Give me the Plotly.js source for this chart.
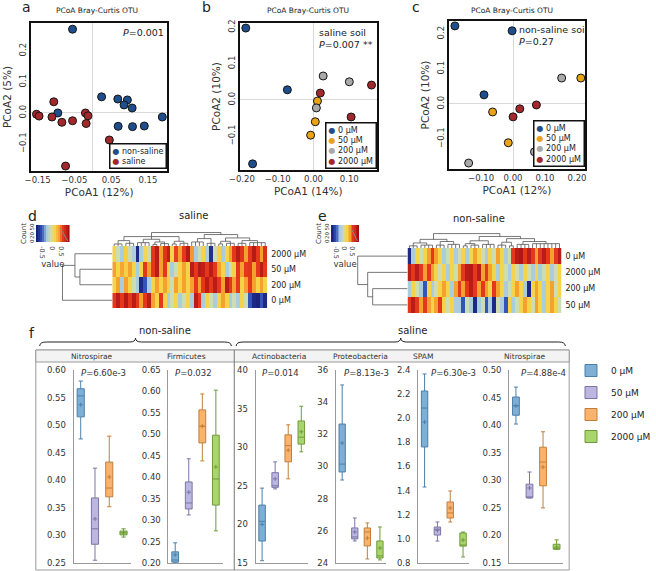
<!DOCTYPE html>
<html>
<head>
<meta charset="utf-8">
<script src="https://cdn.plot.ly/plotly-3.0.1.min.js"></script>
<style>
  html, body { margin: 0; padding: 0; background: #fff; }
  #fig { width: 656px; height: 571px; }
</style>
</head>
<body>
<div id="fig"></div>
<script>
// ---------- data ----------
var concs = ['0 μM', '50 μM', '200 μM', '2000 μM'];

// a: PCoA, saline vs non-saline
var aNonSalineX = [-0.055, -0.095, 0.024, 0.068, 0.094, 0.085, 0.107, 0.189, 0.069, 0.108, 0.140];
var aNonSalineY = [0.270, 0.000, 0.052, 0.045, 0.042, 0.026, 0.016, -0.013, -0.043, -0.044, -0.042];
var aSalineX = [-0.153, -0.146, -0.106, -0.111, -0.084, -0.055, -0.020, -0.013, -0.018, 0.045, -0.074];
var aSalineY = [-0.004, -0.010, 0.036, -0.013, -0.030, -0.025, 0.000, -0.009, -0.034, -0.087, -0.171];

// b: saline soil, one list per concentration
var bX = [[-0.189, -0.073, -0.170], [0.011, 0.005, -0.008], [0.027, 0.100, 0.008], [0.162, 0.019, 0.105]];
var bY = [[0.198, 0.028, -0.176], [-0.003, -0.060, -0.097], [0.066, 0.050, -0.022], [0.041, 0.019, -0.047]];

// c: non-saline soil
var cX = [[-0.182, -0.003, -0.091], [0.212, -0.064, -0.015], [0.152, 0.067, -0.139], [0.021, 0.000, 0.073]];
var cY = [[0.223, 0.209, 0.026], [0.074, -0.023, -0.111], [0.074, -0.137, -0.169], [-0.014, -0.037, -0.003]];

// d: saline heatmap rows (top to bottom)
var dRowNames = ['2000 μM', '50 μM', '200 μM', '0 μM'];
var dRow2000 = [0.1,-0.1,-0.3,0.12,-0.12,-0.28,-0.75,-0.3,0.08,-0.1,0.5,0.7,0.3,0.52,0.68,0.1,0.48,0.3,0.5,0.72,0.32,-0.3,-0.1,0.1,-0.28,-0.72,-0.1,0.12,-0.3,0.1,0.3,0.5,0.7,0.52,0.3,0.5,0.72,0.5,0.3,0.55];
var dRow50 = [0.3,0.1,0.28,0.12,0.3,0.1,-0.3,0.1,0.5,0.3,0.5,0.7,0.3,0.5,0.1,-0.3,-0.1,0.1,0.3,0.1,0.7,0.5,0.72,0.68,0.5,0.7,0.5,0.3,0.1,-0.3,-0.1,0.1,0.5,0.3,0.5,0.52,0.3,0.5,0.7,0.5];
var dRow200 = [0.1,0.3,-0.3,0.3,0.1,-0.1,-0.3,-0.75,-0.55,-0.3,0.1,0.3,0.1,0.3,0.12,-0.1,0.3,0.1,0.3,0.1,0.3,0.5,0.3,0.5,0.7,0.5,0.7,0.5,0.3,0.7,0.5,0.3,0.5,0.1,0.3,0.5,0.3,0.1,0.3,0.1];
var dRow0 = [0.5,0.7,0.5,0.72,0.5,0.7,0.5,0.3,0.5,0.7,0.3,0.1,0.5,0.1,-0.3,-0.1,0.1,-0.3,-0.1,0.1,-0.3,0.7,0.5,-0.3,0.1,-0.1,-0.3,0.1,0.3,0.1,-0.3,-0.1,-0.3,0.1,-0.1,-0.55,-0.75,-0.78,-0.55,-0.75];
var dColTree = [1,
  [0.7, [0.4, [0.15, 0, 1, 2], [0.2, 3, 4, 5]], [0.5, [0.25, 6, 7, 8, 9], [0.3, [0.12, 10, 11], [0.18, 12, 13, 14]]], [0.35, [0.15, 15, 16], [0.2, 17, 18, 19]]],
  [0.85, [0.55, [0.3, 20, 21, 22, 23], [0.2, 24, 25, 26]], [0.6, [0.35, [0.15, 27, 28], [0.2, 29, 30, 31]], [0.4, [0.2, 32, 33, 34], [0.25, 35, 36, 37, 38, 39]]]]
];
var dRowTree = [1, [0.75, 0, [0.65, 1, 2]], 3];

// e: non-saline heatmap rows
var eRowNames = ['0 μM', '2000 μM', '200 μM', '50 μM'];
var eRow0 = [-0.75,-0.3,0.1,-0.1,0.1,0.3,0.5,0.3,0.1,-0.3,-0.1,0.1,-0.3,-0.1,0.1,-0.3,0.1,0.3,0.1,-0.1,-0.3,0.1,-0.1,0.3,0.1,-0.3,-0.1,0.5,0.7,0.75,0.5,0.7,0.5,0.3,0.5,0.7,0.5,0.3,0.5,0.7];
var eRow2000 = [0.7,0.5,0.7,0.5,0.3,0.5,0.3,0.1,-0.1,0.1,-0.3,0.1,-0.1,0.3,0.5,0.7,0.72,0.5,0.7,0.3,0.5,0.3,0.1,-0.3,0.1,-0.1,-0.3,0.1,-0.1,-0.3,0.1,-0.1,-0.3,0.1,-0.3,-0.1,0.1,-0.3,-0.1,0.1];
var eRow200 = [-0.3,0.1,-0.1,-0.3,-0.55,0.1,-0.3,-0.1,0.1,0.3,0.1,-0.3,0.3,0.5,0.3,0.5,0.7,0.5,0.3,0.5,0.3,0.1,0.5,0.3,0.1,-0.3,-0.1,0.1,0.3,0.1,-0.3,-0.75,0.1,0.3,0.1,-0.3,0.1,0.3,-0.1,0.1];
var eRow50 = [0.5,0.7,0.5,0.3,0.5,0.3,0.1,0.3,0.5,0.1,-0.1,0.1,-0.3,-0.3,-0.55,-0.1,-0.3,-0.75,-0.3,-0.1,-0.55,-0.3,-0.75,-0.1,-0.3,-0.55,0.1,-0.3,-0.1,0.1,0.3,0.1,-0.1,0.3,0.1,-0.3,0.1,0.3,0.1,-0.1];
var eColTree = [1,
  [0.6, [0.35, [0.15, 0, 1, 2], [0.2, 3, 4, 5, 6]], [0.45, [0.2, 7, 8, 9], [0.25, 10, 11, 12, 13]]],
  [0.8, [0.5, [0.3, [0.15, 14, 15], [0.2, 16, 17, 18]], [0.25, 19, 20, 21, 22]], [0.65, [0.4, [0.2, 23, 24, 25], [0.15, 26, 27]], [0.45, [0.25, 28, 29, 30, 31], [0.3, 32, 33, 34, 35, 36, 37, 38, 39]]]]
];
var eRowTree = [1, 0, [0.8, 1, [0.7, 2, 3]]];

// colour key of the heatmaps
var keyVals = [-0.8,-0.7,-0.6,-0.5,-0.4,-0.3,-0.2,-0.1,0,0.1,0.2,0.3,0.4,0.5,0.6,0.7,0.8];
var keyHistX = [0.35, 0.45, 0.55, 0.65, 0.75];
var keyHistY = [48, 40, 28, 14, 4];

// f: boxplots, per concentration [min, q1, median, q3, max, mean]
var boxTitles = ['Nitrospirae', 'Firmicutes', 'Actinobacteria', 'Proteobacteria', 'SPAM', 'Nitrospirae'];
var boxPvals = ['6.60e-3', '0.032', '0.014', '8.13e-3', '6.30e-3', '4.88e-4'];
var boxNitroNonSaline = [[0.475,0.515,0.553,0.566,0.580,0.537], [0.255,0.284,0.312,0.368,0.422,0.330], [0.352,0.370,0.386,0.433,0.480,0.406], [0.297,0.301,0.3045,0.308,0.312,0.305]];
var boxFirmicutes = [[0.200,0.202,0.207,0.226,0.247,0.219], [0.312,0.326,0.340,0.389,0.443,0.365], [0.438,0.480,0.519,0.557,0.594,0.519], [0.275,0.335,0.396,0.498,0.603,0.424]];
var boxActino = [[15.3,17.85,20.4,22.5,24.7,20.0], [24.6,24.8,25.0,26.7,28.1,25.9], [25.9,28.1,30.2,31.6,32.9,29.6], [29.4,30.4,31.3,33.4,35.3,32.0]];
var boxProteo = [[29.16,29.66,30.15,32.64,35.07,31.46], [25.37,25.5,25.62,26.18,26.8,25.93], [24.25,25.06,25.93,26.18,26.49,25.55], [24.19,24.31,24.44,25.37,26.24,24.93]];
var boxSpam = [[1.43,1.762,2.085,2.226,2.367,1.969], [0.982,1.032,1.08,1.098,1.14,1.07], [1.14,1.173,1.215,1.306,1.397,1.256], [0.85,0.94,0.949,1.049,1.057,0.99]];
var boxNitroSaline = [[0.402,0.418,0.435,0.451,0.469,0.435], [0.268,0.268,0.269,0.293,0.315,0.286], [0.250,0.290,0.333,0.360,0.388,0.324], [0.175,0.175,0.177,0.184,0.192,0.179]];
var boxRanges = [[0.25, 0.60], [0.20, 0.65], [15, 40], [24, 36], [0.8, 2.4], [0.15, 0.50]];
var boxDticks = [0.05, 0.05, 5, 2, 0.2, 0.05];

// ---------- styling ----------
var W = 656, H = 571;
var dotColors = ['#1f4e8c', '#e8a317', '#a9a9a9', '#a3282b'];
var boxFill = ['#7eb0d5', '#bcb6e0', '#f9b36c', '#a9d66c'];
var boxLine = ['#4d7fa8', '#7b75a6', '#c27f3c', '#6f9a3c'];
var heatScale = [[0, '#1a1f7a'], [0.15, '#2f4fb8'], [0.3, '#a6cbe3'], [0.44, '#cfdcb0'], [0.56, '#f6d54a'], [0.69, '#f5a030'], [0.81, '#e6381c'], [1, '#a50f15']];

function fx(p) { return p / W; }
function fy(p) { return 1 - p / H; }
function domX(a, b) { return [a / W, b / W]; }
function domY(top, bottom) { return [1 - bottom / H, 1 - top / H]; }

var traces = [];
var layout = {
  width: W, height: H,
  margin: {l: 0, r: 0, t: 0, b: 0},
  paper_bgcolor: '#fff',
  plot_bgcolor: 'rgba(0,0,0,0)',
  font: {family: 'DejaVu Sans', color: '#222', size: 9},
  showlegend: true,
  legend: {x: fx(590), y: fy(356), xanchor: 'left', yanchor: 'top', font: {size: 9}, tracegroupgap: 3, bgcolor: 'rgba(0,0,0,0)'},
  annotations: [],
  shapes: []
};

function setAxes(n, xd, yd, xo, yo) {
  var s = n > 1 ? String(n) : '';
  layout['xaxis' + s] = Object.assign({domain: xd, anchor: 'y' + s, fixedrange: true}, xo);
  layout['yaxis' + s] = Object.assign({domain: yd, anchor: 'x' + s, fixedrange: true}, yo);
}
var hidden = {visible: false, showgrid: false, zeroline: false};

function note(text, px, py, opts) {
  layout.annotations.push(Object.assign({text: text, x: fx(px), y: fy(py), xref: 'paper', yref: 'paper',
    showarrow: false, xanchor: 'center', yanchor: 'middle', font: {size: 9}}, opts || {}));
}

// ---------- a, b, c: PCoA scatter ----------
function pcoaAxis(range, tickvals, fmt, angle, title) {
  return {range: range, tickvals: tickvals, tickformat: fmt, tickangle: angle,
    showline: true, mirror: true, linecolor: '#111', linewidth: 2, showgrid: false,
    zeroline: true, zerolinecolor: '#d9d9d9', zerolinewidth: 1, ticks: '',
    tickfont: {size: 8.5, color: '#333'}, title: {text: title, font: {size: 10.5, color: '#333'}, standoff: 4}};
}
function dots(x, y, color, n) {
  var s = n > 1 ? String(n) : '';
  return {type: 'scatter', mode: 'markers', x: x, y: y, xaxis: 'x' + s, yaxis: 'y' + s,
    marker: {size: 8, color: color, line: {color: '#151515', width: 1}}, showlegend: false, cliponaxis: false, hoverinfo: 'skip'};
}

setAxes(1, domX(32, 173), domY(23, 171),
  pcoaAxis([-0.168, 0.203], [-0.15, -0.05, 0.05, 0.15], '.2f', 0, 'PCoA1 (12%)'),
  pcoaAxis([-0.187, 0.29], [-0.1, 0, 0.1, 0.2], '.1f', -90, 'PCoA2 (5%)'));
traces.push(dots(aNonSalineX, aNonSalineY, dotColors[0], 1));
traces.push(dots(aSalineX, aSalineY, dotColors[3], 1));

setAxes(2, domX(248, 389), domY(23, 170),
  pcoaAxis([-0.205, 0.176], [-0.2, -0.1, 0, 0.1], '.2f', 0, 'PCoA1 (14%)'),
  pcoaAxis([-0.193, 0.212], [-0.1, 0, 0.1, 0.2], '.1f', -90, 'PCoA2 (10%)'));
setAxes(3, domX(464, 604), domY(21, 169),
  pcoaAxis([-0.2, 0.224], [-0.1, 0, 0.1, 0.2], '.2f', 0, 'PCoA1 (12%)'),
  pcoaAxis([-0.186, 0.237], [-0.1, 0, 0.1, 0.2], '.1f', -90, 'PCoA2 (10%)'));
for (var i = 0; i < concs.length; i++) {
  traces.push(dots(bX[i], bY[i], dotColors[i], 2));
  traces.push(dots(cX[i], cY[i], dotColors[i], 3));
}

function dotLegend(names, colors) {
  return names.map(function (n, k) {
    return '<span style="color:' + colors[k] + '">●</span> ' + n;
  }).join('<br>');
}
var legBox = {xanchor: 'left', yanchor: 'top', align: 'left', bgcolor: '#fff', bordercolor: '#111', borderwidth: 1.5, borderpad: 2, font: {size: 8, color: '#222'}};
note(dotLegend(['non-saline', 'saline'], [dotColors[0], dotColors[3]]), 113, 143, legBox);
note(dotLegend(concs, dotColors), 336, 122, legBox);
note(dotLegend(concs, dotColors), 551, 120, legBox);

note('<i>P</i>=0.001', 171, 32, {xanchor: 'right', font: {size: 9.5}});
note('saline soil<br><i>P</i>=0.007 **', 327, 25, {xanchor: 'left', yanchor: 'top', align: 'left', font: {size: 9.5}});
note('non-saline soil<br><i>P</i>=0.27', 534, 22, {xanchor: 'left', yanchor: 'top', align: 'left', font: {size: 9.5}});

['a', 'b', 'c'].forEach(function (t, k) {
  note(t, [27, 213, 430][k], 7, {font: {size: 14}});
  note('PCoA Bray-Curtis OTU', [100, 318, 529][k], 10, {font: {size: 7.5}});
});

// ---------- d, e: heatmaps with dendrograms ----------
function dendro(tree, segs) {
  if (typeof tree === 'number') return {pos: tree, h: 0};
  var h = tree[0];
  var kids = tree.slice(1).map(function (k) { return dendro(k, segs); });
  kids.forEach(function (k) { segs.push([k.pos, k.h, k.pos, h]); });
  var p0 = kids[0].pos, p1 = kids[kids.length - 1].pos;
  segs.push([p0, h, p1, h]);
  return {pos: (p0 + p1) / 2, h: h};
}
function dendroTrace(tree, swap, n) {
  var segs = [], x = [], y = [];
  dendro(tree, segs);
  segs.forEach(function (s) {
    if (swap) { x.push(s[1], s[3], null); y.push(s[0], s[2], null); }
    else { x.push(s[0], s[2], null); y.push(s[1], s[3], null); }
  });
  return {type: 'scatter', mode: 'lines', x: x, y: y, xaxis: 'x' + n, yaxis: 'y' + n,
    line: {color: '#555', width: 0.8}, showlegend: false, hoverinfo: 'skip'};
}

function heatBlock(n, rows, names, colTree, rowTree, box, key, title) {
  // box: [left, right, top, bottom, rowDendroLeft, colDendroTop]
  var nc = rows[0].length;
  setAxes(n, domX(box[0], box[1]), domY(box[2], box[3]),
    Object.assign({range: [-0.5, nc - 0.5]}, hidden),
    {range: [rows.length - 0.5, -0.5], side: 'right', tickvals: [0, 1, 2, 3], ticktext: names,
     showgrid: false, zeroline: false, ticks: '', tickfont: {size: 8, color: '#222'}, ticklabelstandoff: 3});
  traces.push({type: 'heatmap', z: rows, xaxis: 'x' + n, yaxis: 'y' + n, colorscale: heatScale,
    zmin: -0.8, zmax: 0.8, showscale: false, hoverinfo: 'skip'});

  setAxes(n + 1, domX(box[0], box[1]), domY(box[5], box[2]),
    Object.assign({range: [-0.5, nc - 0.5]}, hidden), Object.assign({range: [0, 1.04]}, hidden));
  traces.push(dendroTrace(colTree, false, n + 1));

  setAxes(n + 2, domX(box[4], box[0]), domY(box[2], box[3]),
    Object.assign({range: [1.03, 0]}, hidden), Object.assign({range: [rows.length - 0.5, -0.5]}, hidden));
  traces.push(dendroTrace(rowTree, true, n + 2));

  setAxes(n + 3, domX(key[0], key[1]), domY(key[2], key[3]),
    {range: [-0.85, 0.85], tickvals: [-0.5, 0, 0.5], ticktext: ['-0.5', '0', '0.5'], ticks: '', showgrid: false,
     zeroline: false, tickfont: {size: 6.5, color: '#333'}, ticklabelstandoff: 0,
     title: {text: 'value', font: {size: 8.5, color: '#333'}, standoff: 1}},
    {range: [0, 60], tickvals: [0, 20, 50], tickangle: -90, ticks: '', showgrid: false, zeroline: false,
     tickfont: {size: 5.5, color: '#333'}, ticklabelstandoff: 0,
     title: {text: 'Count', font: {size: 7, color: '#333'}, standoff: 1}});
  traces.push({type: 'heatmap', z: [keyVals], x: keyVals, y: [0, 60], xaxis: 'x' + (n + 3), yaxis: 'y' + (n + 3),
    colorscale: heatScale, zmin: -0.8, zmax: 0.8, showscale: false, hoverinfo: 'skip'});
  traces.push({type: 'scatter', mode: 'lines', x: keyHistX, y: keyHistY, xaxis: 'x' + (n + 3), yaxis: 'y' + (n + 3),
    line: {color: '#8a8a8a', width: 1}, showlegend: false, hoverinfo: 'skip'});
  note(title[0], title[1], title[2], {font: {size: 10}});
}

heatBlock(4, [dRow2000, dRow50, dRow200, dRow0], dRowNames, dColTree, dRowTree,
  [116, 276, 246, 308, 63, 232], [37, 72, 225, 242], ['saline', 200, 216]);
heatBlock(8, [eRow0, eRow2000, eRow200, eRow50], eRowNames, eColTree, eRowTree,
  [421, 580, 248, 313, 368, 233], [342, 371, 225, 242], ['non-saline', 495, 218]);
note('d', 34, 216, {font: {size: 14}});
note('e', 333, 216, {font: {size: 14}});

// ---------- f: boxplots ----------
var boxData = [boxNitroNonSaline, boxFirmicutes, boxActino, boxProteo, boxSpam, boxNitroSaline];
var boxX = [[76, 135], [174, 230], [264, 318], [347, 399], [432, 485], [526, 582]];
var headerX = [95, 193, 288, 372, 437, 542];
var pX = [107, 200, 290, 379, 469, 561];

boxData.forEach(function (panel, k) {
  var n = 12 + k, s = String(n);
  var fmt = boxDticks[k] >= 1 ? '' : (boxDticks[k] >= 0.1 ? '.1f' : '.2f');
  setAxes(n, domX(boxX[k][0], boxX[k][1]), domY(370, 563),
    {range: [-0.5, 3.5], showline: true, linecolor: '#9a9a9a', linewidth: 1, showgrid: false, zeroline: false, showticklabels: false, ticks: ''},
    {range: boxRanges[k], dtick: boxDticks[k], tick0: 0, tickformat: fmt, showline: true, linecolor: '#9a9a9a', linewidth: 1,
     showgrid: false, zeroline: false, ticks: '', ticklabelstandoff: 5, tickfont: {size: 8.5, color: '#333'}});
  panel.forEach(function (v, i) {
    traces.push({type: 'box', x: [i], lowerfence: [v[0]], q1: [v[1]], median: [v[2]], q3: [v[3]], upperfence: [v[4]],
      xaxis: 'x' + s, yaxis: 'y' + s, name: concs[i], legendgroup: concs[i], showlegend: k === 0,
      fillcolor: boxFill[i], line: {color: boxLine[i], width: 1}, width: 0.5, whiskerwidth: 0.6, hoverinfo: 'skip'});
    traces.push({type: 'scatter', mode: 'markers', x: [i], y: [v[5]], xaxis: 'x' + s, yaxis: 'y' + s,
      marker: {size: 3, symbol: 'cross-thin', line: {color: boxLine[i], width: 1}}, showlegend: false, hoverinfo: 'skip'});
  });
  note(boxTitles[k], headerX[k], 356, {font: {size: 7.5, color: '#333'}});
  note('<i>P</i>=' + boxPvals[k], pX[k], 373, {font: {size: 8.5, color: '#333'}});
});

// panel f frame, header strip and separators
function rect(x0, y0, x1, y1, fill) {
  layout.shapes.push({type: 'rect', xref: 'paper', yref: 'paper', x0: fx(x0), x1: fx(x1), y0: fy(y0), y1: fy(y1),
    line: {color: '#9a9a9a', width: 1}, fillcolor: fill || 'rgba(0,0,0,0)', layer: 'below'});
}
rect(37, 350, 588, 570);
rect(37, 350, 588, 362, '#f3f3f3');
layout.shapes.push({type: 'line', xref: 'paper', yref: 'paper', x0: fx(242), x1: fx(242), y0: fy(350), y1: fy(570),
  line: {color: '#777', width: 1}});

function brace(x1, x2, xm, yb) {
  var p = function (x, y) { return fx(x) + ',' + fy(y); };
  return 'M' + p(x1, yb + 4) + ' Q' + p(x1, yb) + ' ' + p(x1 + 7, yb) + ' L' + p(xm - 6, yb) +
    ' Q' + p(xm, yb) + ' ' + p(xm, yb - 4) + ' Q' + p(xm, yb) + ' ' + p(xm + 6, yb) +
    ' L' + p(x2 - 7, yb) + ' Q' + p(x2, yb) + ' ' + p(x2, yb + 4);
}
layout.shapes.push({type: 'path', xref: 'paper', yref: 'paper', path: brace(41, 239, 140, 342), line: {color: '#222', width: 1}});
layout.shapes.push({type: 'path', xref: 'paper', yref: 'paper', path: brace(244, 584, 414, 342), line: {color: '#222', width: 1}});
note('non-saline', 170, 330, {font: {size: 10}});
note('saline', 426, 330, {font: {size: 10}});
note('f', 33, 333, {font: {size: 14}});

Plotly.newPlot(document.getElementById('fig'), traces, layout, {displayModeBar: false, staticPlot: true});
</script>
</body>
</html>
